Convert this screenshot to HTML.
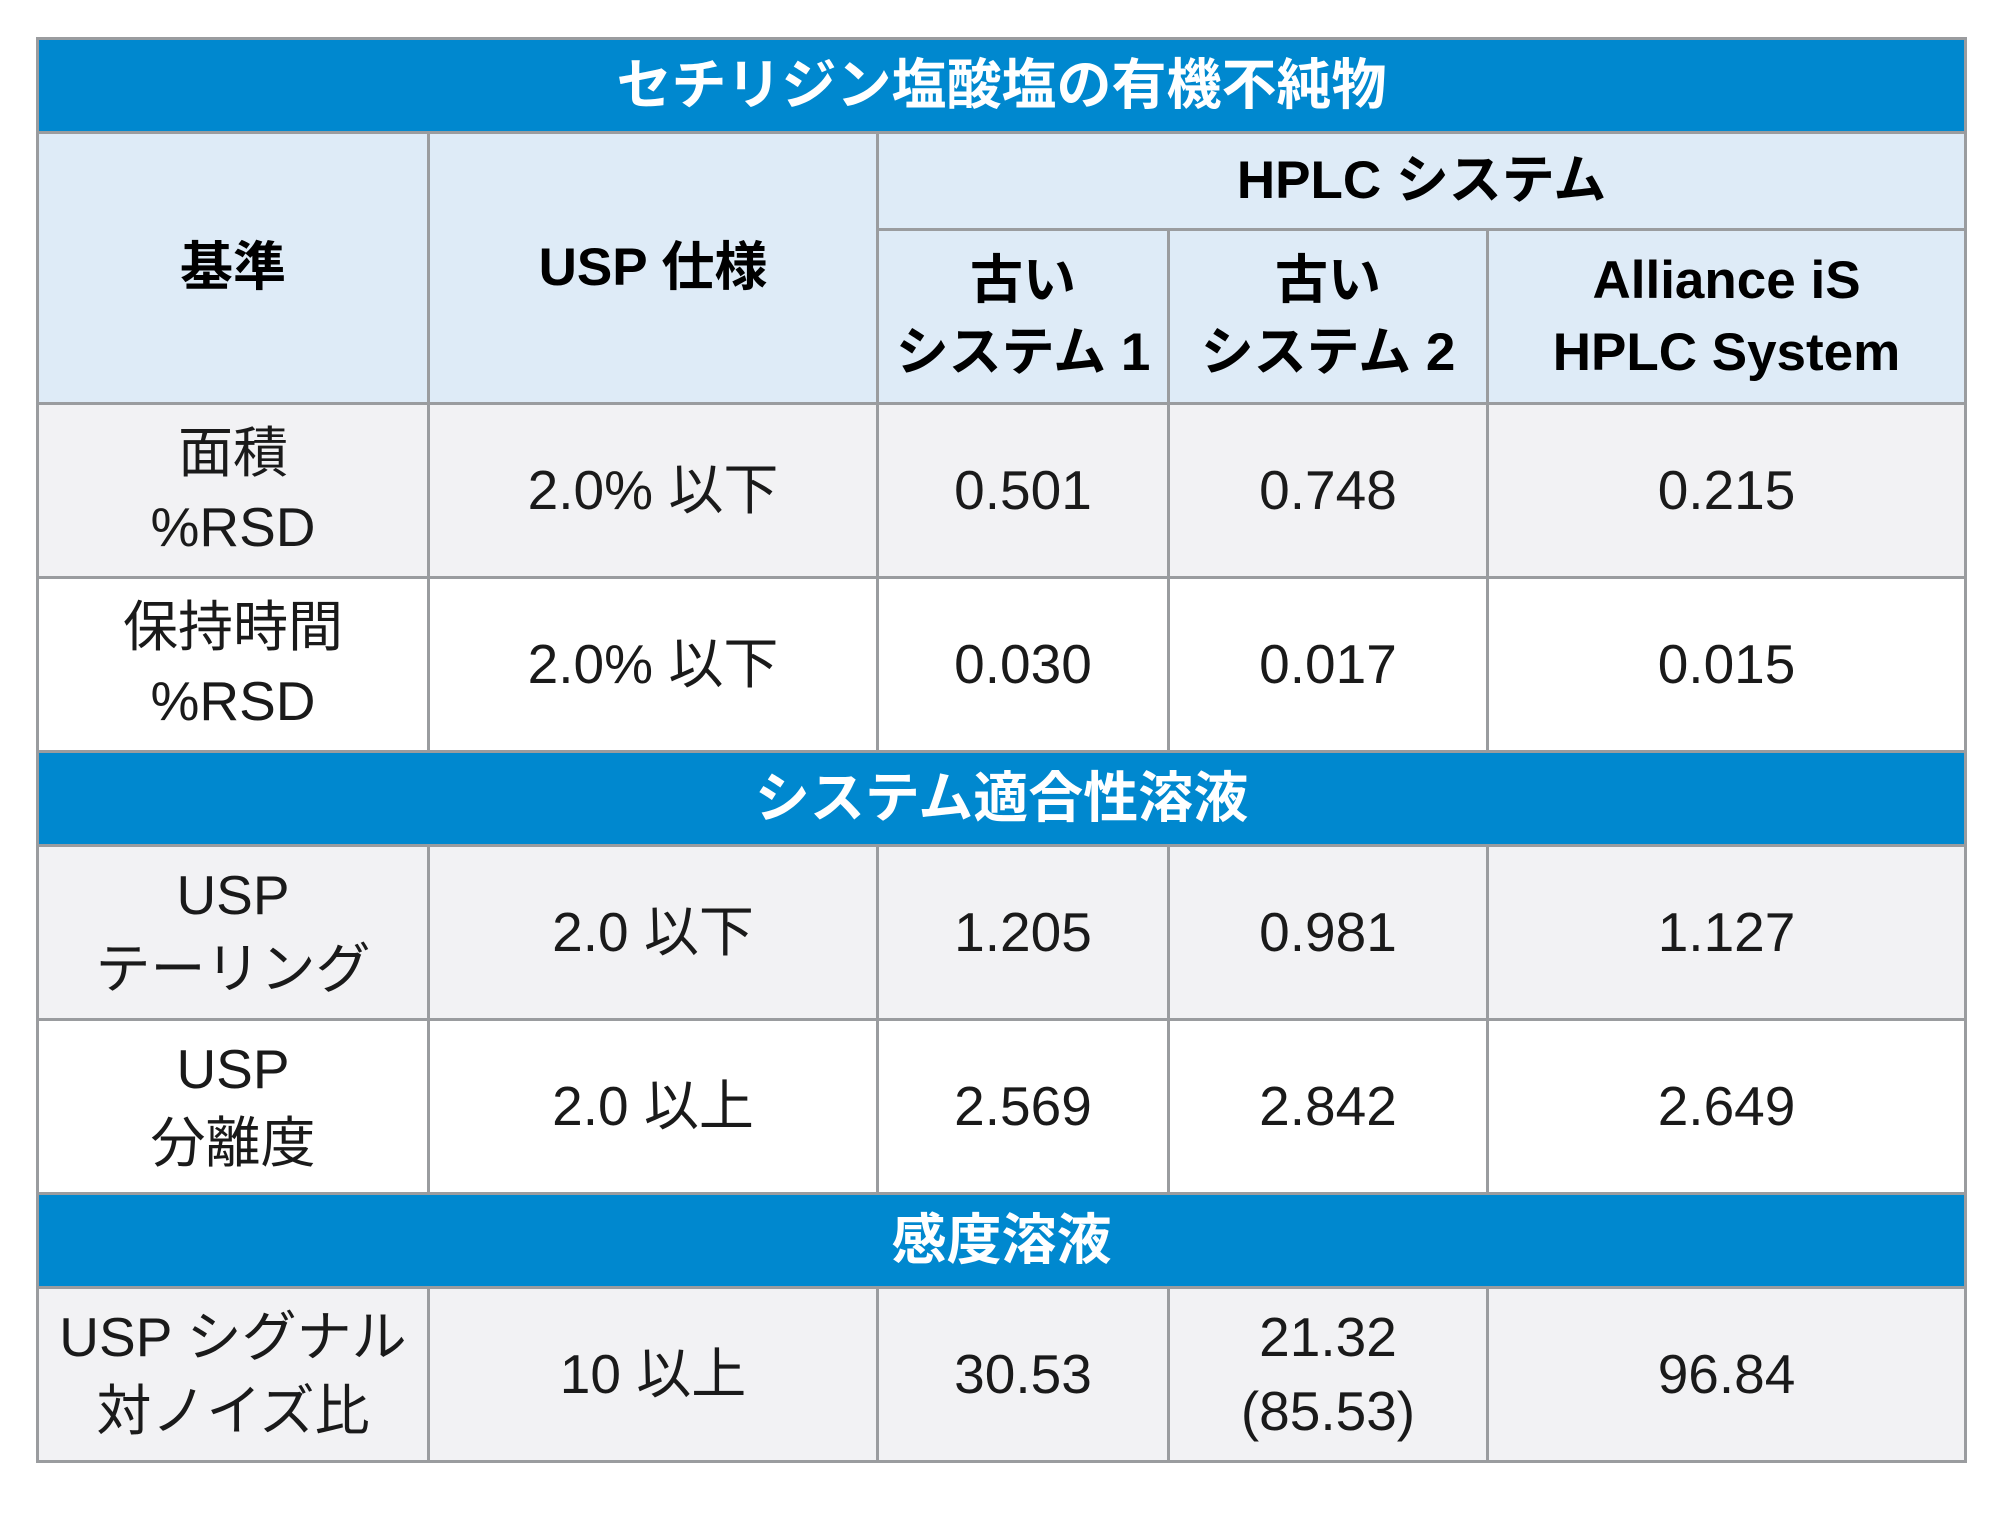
<!DOCTYPE html>
<html><head><meta charset="utf-8"><style>
html,body{margin:0;padding:0;background:#fff;width:2000px;height:1517px;overflow:hidden}
table{position:absolute;left:36px;top:37px;width:1928px;border-collapse:collapse;table-layout:fixed;font-family:"Liberation Sans","Noto Sans CJK JP",sans-serif;color:#1a1a1a}
td{border:3px solid #9a9c9f;text-align:center;vertical-align:middle;padding:0;line-height:1.3}
.bar{background:#0088cf;color:#fff;font-weight:bold;font-size:55px;height:91px}
.h{background:#deebf7;font-weight:bold;font-size:53px;color:#000}
.g{background:#f2f2f4}
.w{background:#fff}
.d td{font-size:55px;line-height:1.33}
</style></head><body>
<table>
<colgroup><col style="width:391px"><col style="width:449px"><col style="width:291px"><col style="width:319px"><col style="width:478px"></colgroup>
<tr><td class="bar" colspan="5">セチリジン塩酸塩の有機不純物</td></tr>
<tr><td class="h" rowspan="2">基準</td><td class="h" rowspan="2">USP 仕様</td><td class="h" colspan="3" style="height:94px">HPLC システム</td></tr>
<tr><td class="h" style="height:171px;line-height:1.35">古い<br>システム 1</td><td class="h" style="line-height:1.35">古い<br>システム 2</td><td class="h" style="line-height:1.35">Alliance iS<br>HPLC System</td></tr>
<tr class="d g"><td style="height:171px">面積<br>%RSD</td><td>2.0% 以下</td><td>0.501</td><td>0.748</td><td>0.215</td></tr>
<tr class="d w"><td style="height:171px">保持時間<br>%RSD</td><td>2.0% 以下</td><td>0.030</td><td>0.017</td><td>0.015</td></tr>
<tr><td class="bar" colspan="5">システム適合性溶液</td></tr>
<tr class="d g"><td style="height:171px">USP<br>テーリング</td><td>2.0 以下</td><td>1.205</td><td>0.981</td><td>1.127</td></tr>
<tr class="d w"><td style="height:171px">USP<br>分離度</td><td>2.0 以上</td><td>2.569</td><td>2.842</td><td>2.649</td></tr>
<tr><td class="bar" colspan="5">感度溶液</td></tr>
<tr class="d g"><td style="height:171px">USP シグナル<br>対ノイズ比</td><td>10 以上</td><td>30.53</td><td>21.32<br>(85.53)</td><td>96.84</td></tr>
</table>
</body></html>
